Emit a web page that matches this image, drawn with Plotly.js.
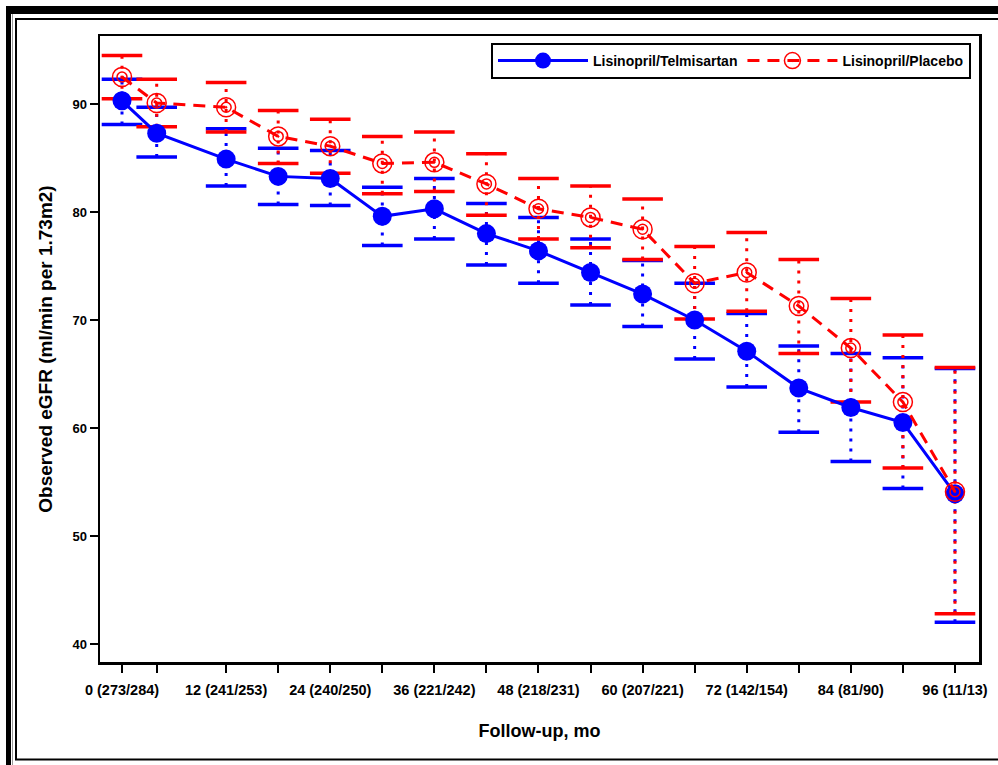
<!DOCTYPE html>
<html>
<head>
<meta charset="utf-8">
<script src="https://cdn.plot.ly/plotly-3.0.1.min.js"></script>
<style>
html,body{margin:0;padding:0;background:#fff;}
#chart{width:998px;height:765px;}
</style>
</head>
<body>
<div id="chart"></div>
<script>
// Follow-up months
const months = [0, 4, 12, 18, 24, 30, 36, 42, 48, 54, 60, 66, 72, 78, 84, 90, 96];
// Tick labels (month -> label)
const labelMonths = [0, 12, 24, 36, 48, 60, 72, 84, 96];
const labelTexts = ["0 (273/284)", "12 (241/253)", "24 (240/250)", "36 (221/242)", "48 (218/231)",
                    "60 (207/221)", "72 (142/154)", "84 (81/90)", "96 (11/13)"];

// Lisinopril/Telmisartan
const telMean  = [90.3, 87.3, 84.9, 83.3, 83.1, 79.6, 80.3, 78.0, 76.4, 74.4, 72.4, 70.0, 67.1, 63.7, 61.9, 60.5, 53.9];
const telUpper = [92.3, 89.7, 87.7, 85.9, 85.7, 82.3, 83.1, 80.8, 79.5, 77.5, 75.5, 73.4, 70.6, 67.6, 66.9, 66.5, 65.5];
const telLower = [88.1, 85.1, 82.4, 80.7, 80.6, 76.9, 77.5, 75.1, 73.4, 71.4, 69.4, 66.4, 63.8, 59.6, 56.9, 54.4, 42.0];

// Lisinopril/Placebo
const plaMean  = [92.5, 90.1, 89.7, 87.0, 86.1, 84.5, 84.6, 82.6, 80.3, 79.5, 78.4, 73.4, 74.4, 71.3, 67.4, 62.4, 54.1];
const plaUpper = [94.5, 92.3, 92.0, 89.4, 88.6, 87.0, 87.4, 85.4, 83.1, 82.4, 81.2, 76.8, 78.1, 75.6, 72.0, 68.6, 65.6];
const plaLower = [90.5, 87.9, 87.4, 84.5, 83.6, 81.7, 81.9, 79.7, 77.5, 76.7, 75.6, 70.1, 70.8, 66.9, 62.4, 56.3, 42.8];

const BLUE = "#0000FF", RED = "#FF0000";
const FONT = "Liberation Sans, Arial, Helvetica, sans-serif";

function stems(lo, hi) {
  const xs = [], ys = [];
  months.forEach((m, i) => { xs.push(m, m, null); ys.push(lo[i], hi[i], null); });
  return {x: xs, y: ys};
}
function stemTrace(lo, hi, color) {
  const s = stems(lo, hi);
  return {x: s.x, y: s.y, mode: "lines", showlegend: false, hoverinfo: "skip",
          line: {color: color, width: 3, dash: "3px,7px"}};
}
function capTrace(vals, color) {
  return {x: months, y: vals, mode: "markers", showlegend: false, hoverinfo: "skip",
          marker: {symbol: "line-ew", size: 29, color: color, line: {color: color, width: 3.5}}};
}

const ticktext = months.map(m => { const k = labelMonths.indexOf(m); return k >= 0 ? labelTexts[k] : ""; });

const traces = [
  stemTrace(telLower, telUpper, BLUE),
  capTrace(telUpper, BLUE),
  capTrace(telLower, BLUE),
  stemTrace(plaLower, plaUpper, RED),
  capTrace(plaUpper, RED),
  capTrace(plaLower, RED),
  {x: months, y: telMean, mode: "lines+markers", name: "Lisinopril/Telmisartan",
   line: {color: BLUE, width: 3}, marker: {symbol: "circle", size: 19, color: BLUE}},
  {x: months, y: plaMean, mode: "lines+markers", name: "Lisinopril/Placebo",
   line: {color: RED, width: 3, dash: "12px,8px"},
   marker: {symbol: "circle-open-dot", size: 19, color: RED, line: {color: RED, width: 1.5}}},
  {x: months, y: plaMean, mode: "markers", showlegend: false, hoverinfo: "skip",
   marker: {symbol: "circle-open", size: 10, color: RED, line: {color: RED, width: 1.5}}}
];

// frame decorations (paper coords)
const L = 100, R = 979, T = 36, B = 662, W = R - L, H = B - T;
const px = v => (v - L) / W, py = v => (B - v) / H;
const shapes = [
  {type: "rect", xref: "paper", yref: "paper", x0: px(6), x1: px(1000), y0: py(14), y1: py(6),
   fillcolor: "#000", line: {width: 0}},
  {type: "rect", xref: "paper", yref: "paper", x0: px(6), x1: px(11), y0: py(766), y1: py(6),
   fillcolor: "#000", line: {width: 0}},
  {type: "line", xref: "paper", yref: "paper", x0: px(12.5), x1: px(12.5), y0: py(766), y1: py(14),
   line: {color: "#9a9a9a", width: 1}},
  {type: "line", xref: "paper", yref: "paper", x0: px(16), x1: px(16), y0: py(760), y1: py(19),
   line: {color: "#000", width: 2}},
  {type: "line", xref: "paper", yref: "paper", x0: px(15), x1: px(1000), y0: py(19), y1: py(19),
   line: {color: "#000", width: 2}},
  {type: "line", xref: "paper", yref: "paper", x0: px(15), x1: px(1000), y0: py(759.5), y1: py(759.5),
   line: {color: "#000", width: 2}}
];

const layout = {
  width: 998, height: 765,
  margin: {l: L, r: 998 - R, t: T, b: 765 - B, pad: 0},
  paper_bgcolor: "#fff", plot_bgcolor: "#fff",
  font: {family: FONT, color: "#000"},
  showlegend: true,
  legend: {x: px(971), xanchor: "right", y: py(43), yanchor: "top", orientation: "h",
           bordercolor: "#000", borderwidth: 2, bgcolor: "#fff",
           font: {family: FONT, size: 14, weight: "bold", color: "#000"},
           itemwidth: 90, tracegroupgap: 0},
  xaxis: {range: [-2.535, 98.77], showgrid: false, zeroline: false,
          tickmode: "array", tickvals: months, ticktext: ticktext,
          ticks: "outside", ticklen: 8, tickwidth: 2, tickcolor: "#000",
          showline: true, linecolor: "#000", linewidth: 2.5, mirror: true,
          ticklabelstandoff: 5,
          tickfont: {family: FONT, size: 14.5, weight: "bold"},
          title: {text: "Follow-up, mo", font: {family: FONT, size: 18, weight: "bold"}, standoff: 28}},
  yaxis: {range: [38.33, 96.3], showgrid: false, zeroline: false,
          tickmode: "array", tickvals: [40, 50, 60, 70, 80, 90],
          ticks: "outside", ticklen: 8, tickwidth: 2, tickcolor: "#000",
          showline: true, linecolor: "#000", linewidth: 2.5, mirror: true,
          tickfont: {family: FONT, size: 13, weight: "bold"},
          title: {text: "Observed eGFR (ml/min per 1.73m2)", font: {family: FONT, size: 19, weight: "bold"}, standoff: 15}},
  shapes: shapes
};

Plotly.newPlot("chart", traces, layout, {displayModeBar: false, staticPlot: true});
</script>
</body>
</html>
